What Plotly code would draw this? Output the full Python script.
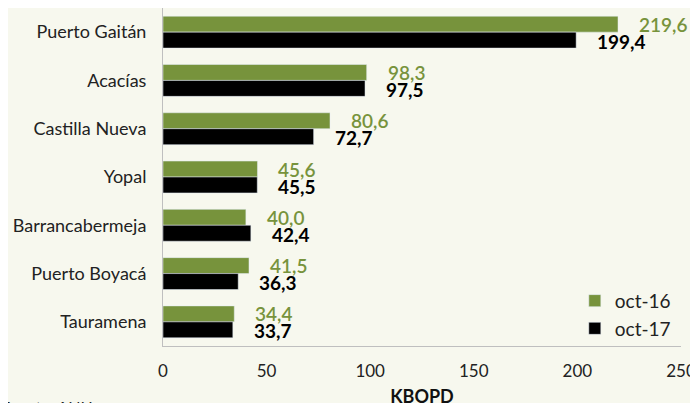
import plotly.graph_objects as go

municipios = ['Puerto Gaitán', 'Acacías', 'Castilla Nueva', 'Yopal',
              'Barrancabermeja', 'Puerto Boyacá', 'Tauramena']
oct16 = [219.6, 98.3, 80.6, 45.6, 40.0, 41.5, 34.4]
oct17 = [199.4, 97.5, 72.7, 45.5, 42.4, 36.3, 33.7]

VERDE = '#77933c'
FONDO = '#f7f8ee'
FUENTE = 'Lato, "Open Sans", sans-serif'

fig = go.Figure()
fig.add_bar(y=municipios, x=oct16, orientation='h', name='oct-16',
            marker_color=VERDE)
fig.add_bar(y=municipios, x=oct17, orientation='h', name='oct-17',
            marker_color='black')

# etiquetas de valor, con coma decimal
for m, v in zip(municipios, oct16):
    fig.add_annotation(x=v, y=m, text=f'{v:.1f}'.replace('.', ','),
                       showarrow=False, xanchor='left', xshift=19, yshift=8,
                       font=dict(family=FUENTE, size=19, color=VERDE, weight=600))
for m, v in zip(municipios, oct17):
    fig.add_annotation(x=v, y=m, text=f'{v:.1f}'.replace('.', ','),
                       showarrow=False, xanchor='left', xshift=19, yshift=-9,
                       font=dict(family=FUENTE, size=19, color='black', weight=700))

fig.add_annotation(x=-0.131, xref='paper', y=-0.145, yref='paper', text='Fuente: ANH',
                   showarrow=False, xanchor='right', yanchor='top',
                   font=dict(family=FUENTE, size=16, color='#222'))

fig.update_layout(
    width=698, height=403,
    barmode='group', bargap=0.34, bargroupgap=0,
    paper_bgcolor=FONDO, plot_bgcolor=FONDO,
    margin=dict(l=155, r=25, t=0, b=65),
    font=dict(family=FUENTE, size=17, color='#222'),
    xaxis=dict(range=[0, 250], dtick=50, showgrid=False, zeroline=False,
               showline=True, linecolor='#bfbfbf', linewidth=1, automargin=False,
               ticks='outside', ticklen=10, tickcolor=FONDO,
               title=dict(text='<b>KBOPD</b>', standoff=9,
                          font=dict(size=18, color='#111'))),
    yaxis=dict(autorange='reversed', showgrid=False, showline=True,
               linecolor='#bfbfbf', linewidth=1, automargin=False,
               ticks='outside', ticklen=12, tickcolor=FONDO,
               tickfont=dict(size=18)),
    legend=dict(x=0.795, y=0.19, xanchor='left', yanchor='top',
                bgcolor='rgba(0,0,0,0)', font=dict(size=19),
                tracegroupgap=0, itemwidth=30),
    showlegend=True,
)

fig.write_html('out.html')
